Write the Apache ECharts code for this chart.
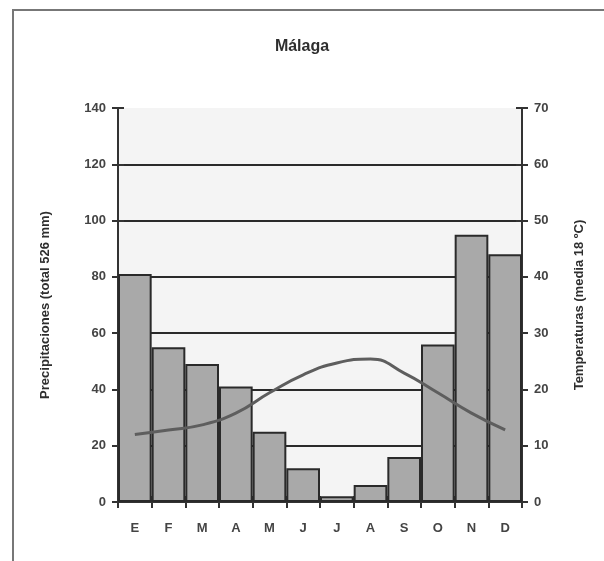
<!DOCTYPE html>
<html>
<head>
<meta charset="utf-8">
<script src="https://cdn.jsdelivr.net/npm/echarts@6/dist/echarts.min.js"></script>
<style>
html,body{margin:0;padding:0;background:#fff;}
#frame{position:absolute;left:12px;top:9px;width:600px;height:560px;border-top:2px solid #777;border-left:2px solid #777;}
#chart{position:absolute;left:0;top:0;width:604px;height:561px;}
</style>
</head>
<body>
<div id="frame"></div>
<div id="chart"></div>
<script>
const months = ['E','F','M','A','M','J','J','A','S','O','N','D'];
const precipitation = [81, 55, 49, 41, 25, 12, 2, 6, 16, 56, 95, 88];
const temperature = [12, 12.8, 13.7, 15.8, 19.4, 22.6, 24.7, 25.4, 22.9, 19.4, 15.8, 12.8];
const precipTicks = [0, 140, 20];
const tempTicks = [0, 70, 10];

const font = 'Liberation Sans, Arial, sans-serif';
const txt = '#2e2e2e';
const gridColors = ['#2a2a2a','#2a2a2a','#2a2a2a','#2a2a2a','#2a2a2a','#2a2a2a','#2a2a2a','rgba(0,0,0,0)'];
const chart = echarts.init(document.getElementById('chart'));
chart.setOption({
  animation: false,
  backgroundColor: 'transparent',
  title: {
    text: 'Málaga', left: 'center', top: 34,
    textStyle: {fontFamily: font, fontSize: 16, fontWeight: 'bold', color: txt}
  },
  grid: {left: 118, right: 82, top: 108, bottom: 59, show: true, backgroundColor: '#f4f4f4', borderWidth: 0},
  xAxis: [{
    type: 'category', data: months, position: 'bottom', boundaryGap: true,
    axisLine: {lineStyle: {color: '#333', width: 2}},
    axisTick: {show: true, length: 6, lineStyle: {color: '#333', width: 2}},
    axisLabel: {margin: 20, fontFamily: font, fontSize: 13, fontWeight: 'bold', color: '#444'}
  }, {
    type: 'category', data: months, position: 'bottom', boundaryGap: true,
    axisLine: {show: false},
    axisTick: {show: true, inside: true, length: 6, lineStyle: {color: '#333', width: 2}},
    axisLabel: {show: false}
  }],
  yAxis: [{
    type: 'value', min: precipTicks[0], max: precipTicks[1], interval: precipTicks[2], position: 'left',
    name: 'Precipitaciones (total 526 mm)', nameLocation: 'middle', nameGap: 66, nameRotate: 90,
    nameTextStyle: {fontFamily: font, fontSize: 13, fontWeight: 'bold', color: txt},
    axisLine: {show: true, lineStyle: {color: '#333', width: 2}},
    axisTick: {show: true, length: 6, lineStyle: {color: '#333', width: 2}},
    axisLabel: {margin: 12, fontFamily: font, fontSize: 13, fontWeight: 'bold', color: '#444'},
    splitLine: {show: true, lineStyle: {color: gridColors, width: 2}}
  }, {
    type: 'value', min: tempTicks[0], max: tempTicks[1], interval: tempTicks[2], position: 'right',
    name: 'Temperaturas (media 18 ºC)', nameLocation: 'middle', nameGap: 51, nameRotate: 90,
    nameTextStyle: {fontFamily: font, fontSize: 13, fontWeight: 'bold', color: txt},
    axisLine: {show: true, lineStyle: {color: '#333', width: 2}},
    axisTick: {show: true, length: 6, lineStyle: {color: '#333', width: 2}},
    axisLabel: {margin: 12, fontFamily: font, fontSize: 13, fontWeight: 'bold', color: '#444'},
    splitLine: {show: false}
  }, {
    type: 'value', min: precipTicks[0], max: precipTicks[1], interval: precipTicks[2], position: 'left',
    axisLine: {show: false},
    axisTick: {show: true, inside: true, length: 6, lineStyle: {color: '#333', width: 2}},
    axisLabel: {show: false}, splitLine: {show: false}
  }, {
    type: 'value', min: tempTicks[0], max: tempTicks[1], interval: tempTicks[2], position: 'right',
    axisLine: {show: false},
    axisTick: {show: true, inside: true, length: 6, lineStyle: {color: '#333', width: 2}},
    axisLabel: {show: false}, splitLine: {show: false}
  }],
  series: [{
    type: 'bar', data: precipitation, xAxisIndex: 0, yAxisIndex: 0,
    barWidth: '100%', barCategoryGap: '0%',
    itemStyle: {color: '#a9a9a9', borderColor: '#2a2a2a', borderWidth: 2}
  }, {
    type: 'line', data: temperature, xAxisIndex: 0, yAxisIndex: 1,
    smooth: 0.5, symbol: 'none',
    lineStyle: {color: '#5e5e5e', width: 3}
  }]
});
</script>
</body>
</html>
